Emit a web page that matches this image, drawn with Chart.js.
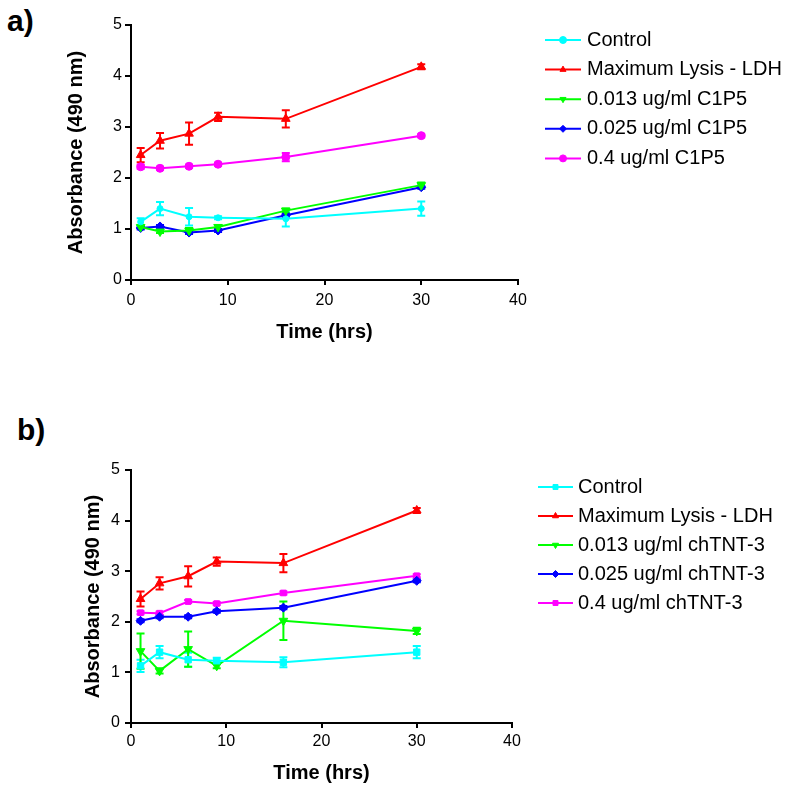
<!DOCTYPE html>
<html>
<head>
<meta charset="utf-8">
<script src="https://cdn.jsdelivr.net/npm/chart.js@4.4.0/dist/chart.umd.min.js"></script>
<style>
  body { margin: 0; background: #fff; width: 800px; height: 793px; position: relative; overflow: hidden; font-family: "Liberation Sans", Arial, sans-serif; }
  canvas { position: absolute; left: 0; }
  #chartA { top: 0; }
  #chartB { top: 390px; }
  .panel { position: absolute; font-weight: bold; font-size: 30px; line-height: 30px; color: #000; }
</style>
</head>
<body>
<div class="panel" style="left:7px;top:6px">a)</div>
<div class="panel" style="left:17px;top:415px">b)</div>
<canvas id="chartA" width="800" height="390"></canvas>
<canvas id="chartB" width="800" height="403"></canvas>
<script>
// time points (hrs)
const times = [1, 3, 6, 9, 16, 30];

// panel a) C1P5
const labelsA = ["Control", "Maximum Lysis - LDH", "0.013 ug/ml C1P5", "0.025 ug/ml C1P5", "0.4 ug/ml C1P5"];
const controlA = [1.14, 1.40, 1.24, 1.22, 1.20, 1.40];
const controlErrA = [0.07, 0.13, 0.17, 0.03, 0.15, 0.14];
const lysisA = [2.45, 2.73, 2.87, 3.20, 3.16, 4.18];
const lysisErrA = [0.14, 0.15, 0.22, 0.08, 0.17, 0.05];
const low013A = [1.04, 0.95, 0.97, 1.04, 1.36, 1.86];
const low013ErrA = [0.03, 0.03, 0.05, 0.04, 0.04, 0.05];
const mid025A = [1.02, 1.05, 0.93, 0.97, 1.27, 1.82];
const mid025ErrA = [0.03, 0.03, 0.03, 0.03, 0.03, 0.03];
const high04A = [2.22, 2.19, 2.23, 2.27, 2.41, 2.83];
const high04ErrA = [0.04, 0.03, 0.03, 0.03, 0.08, 0.03];

// panel b) chTNT-3
const labelsB = ["Control", "Maximum Lysis - LDH", "0.013 ug/ml chTNT-3", "0.025 ug/ml chTNT-3", "0.4 ug/ml chTNT-3"];
const controlB = [1.13, 1.40, 1.25, 1.23, 1.20, 1.40];
const controlErrB = [0.12, 0.12, 0.14, 0.06, 0.10, 0.12];
const lysisB = [2.45, 2.76, 2.90, 3.19, 3.16, 4.20];
const lysisErrB = [0.15, 0.12, 0.20, 0.08, 0.18, 0.05];
const low013B = [1.42, 1.03, 1.46, 1.13, 2.02, 1.82];
const low013ErrB = [0.35, 0.05, 0.35, 0.05, 0.38, 0.06];
const mid025B = [2.02, 2.10, 2.10, 2.21, 2.28, 2.81];
const mid025ErrB = [0.03, 0.03, 0.03, 0.03, 0.03, 0.03];
const high04B = [2.18, 2.17, 2.40, 2.36, 2.57, 2.91];
const high04ErrB = [0.03, 0.03, 0.03, 0.03, 0.03, 0.03];

const colors = ["#00ffff", "#ff0000", "#00ff00", "#0000ff", "#ff00ff"];

Chart.defaults.font.family = "'Liberation Sans', Arial, sans-serif";
Chart.defaults.color = "#000";

function makeDataset(label, values, errors, color, style, rotation, radius) {
  return {
    label: label,
    data: values.map((v, i) => ({ x: times[i], y: v })),
    errors: errors,
    borderColor: color,
    backgroundColor: color,
    borderWidth: 2,
    pointStyle: style,
    rotation: rotation,
    pointRadius: radius,
    pointBorderWidth: 1,
    tension: 0,
    fill: false,
  };
}

const errorBars = {
  id: "errorBars",
  beforeDatasetsDraw(chart) {
    const ctx = chart.ctx;
    const xs = chart.scales.x;
    const ys = chart.scales.y;
    ctx.save();
    chart.data.datasets.forEach((ds) => {
      ctx.strokeStyle = ds.borderColor;
      ctx.lineWidth = 2;
      ds.data.forEach((p, i) => {
        const e = ds.errors[i];
        const x = xs.getPixelForValue(p.x);
        const yt = ys.getPixelForValue(p.y + e);
        const yb = ys.getPixelForValue(p.y - e);
        ctx.beginPath();
        ctx.moveTo(x, yt);
        ctx.lineTo(x, yb);
        ctx.moveTo(x - 4, yt);
        ctx.lineTo(x + 4, yt);
        ctx.moveTo(x - 4, yb);
        ctx.lineTo(x + 4, yb);
        ctx.stroke();
      });
    });
    ctx.restore();
  },
};

const sideLegend = {
  id: "sideLegend",
  afterDraw(chart, args, opts) {
    const ctx = chart.ctx;
    ctx.save();
    ctx.font = "20px 'Liberation Sans', Arial, sans-serif";
    ctx.textBaseline = "middle";
    chart.data.datasets.forEach((ds, i) => {
      const y = opts.top + i * opts.gap;
      ctx.strokeStyle = ds.borderColor;
      ctx.fillStyle = ds.borderColor;
      ctx.lineWidth = 2;
      ctx.beginPath();
      ctx.moveTo(opts.x, y);
      ctx.lineTo(opts.x + opts.len, y);
      ctx.stroke();
      ctx.lineWidth = 1;
      Chart.helpers.drawPoint(ctx, { pointStyle: ds.pointStyle, rotation: ds.rotation, radius: 3.5, borderWidth: 1 }, opts.x + opts.len / 2, y);
      ctx.fillStyle = "#000";
      ctx.fillText(ds.label, opts.textX, y);
    });
    ctx.restore();
  },
};

function makeOptions(p) {
  return {
    responsive: false,
    animation: false,
    layout: { padding: p.padding },
    plugins: {
      legend: { display: false },
      tooltip: { enabled: false },
      sideLegend: p.legend,
    },
    scales: {
      x: {
        type: "linear",
        min: 0,
        max: 40,
        afterFit: (scale) => { scale.height = p.xHeight; },
        ticks: { stepSize: 10, padding: p.xPad, font: { size: 16 }, color: "#000" },
        grid: { drawOnChartArea: false, tickLength: 5, tickColor: "#000", lineWidth: 2 },
        border: { color: "#000", width: 2 },
        title: { display: true, text: "Time (hrs)", font: { size: 20, weight: "bold" }, color: "#000", padding: 0 },
      },
      y: {
        min: 0,
        max: 5,
        afterFit: (scale) => { scale.width = p.yWidth; },
        ticks: { stepSize: 1, padding: p.yPad, font: { size: 16 }, color: "#000" },
        grid: { drawOnChartArea: false, tickLength: 6, tickColor: "#000", lineWidth: 2 },
        border: { color: "#000", width: 2 },
        title: { display: true, text: "Absorbance (490 nm)", font: { size: 20, weight: "bold" }, color: "#000", padding: 0 },
      },
    },
  };
}

new Chart(chartA, {
  type: "line",
  data: {
    datasets: [
      makeDataset(labelsA[0], controlA, controlErrA, colors[0], "circle", 0, 3),
      makeDataset(labelsA[1], lysisA, lysisErrA, colors[1], "triangle", 0, 5),
      makeDataset(labelsA[2], low013A, low013ErrA, colors[2], "triangle", 180, 5),
      makeDataset(labelsA[3], mid025A, mid025ErrA, colors[3], "rectRot", 0, 4.5),
      makeDataset(labelsA[4], high04A, high04ErrA, colors[4], "circle", 0, 4),
    ],
  },
  options: makeOptions({
    padding: { left: 64, top: 25, right: 282, bottom: 46 },
    yWidth: 67,
    xHeight: 64,
    xPad: 6,
    yPad: 3,
    legend: { x: 545, len: 36, textX: 587, top: 40, gap: 29.6 },
  }),
  plugins: [errorBars, sideLegend],
});

new Chart(chartB, {
  type: "line",
  data: {
    datasets: [
      makeDataset(labelsB[0], controlB, controlErrB, colors[0], "rect", 0, 4.5),
      makeDataset(labelsB[1], lysisB, lysisErrB, colors[1], "triangle", 0, 5),
      makeDataset(labelsB[2], low013B, low013ErrB, colors[2], "triangle", 180, 5),
      makeDataset(labelsB[3], mid025B, mid025ErrB, colors[3], "rectRot", 0, 4.5),
      makeDataset(labelsB[4], high04B, high04ErrB, colors[4], "rect", 0, 4),
    ],
  },
  options: makeOptions({
    padding: { left: 81, top: 80, right: 288, bottom: 8 },
    yWidth: 50,
    xHeight: 62,
    xPad: 4,
    yPad: 5,
    legend: { x: 538, len: 35, textX: 578, top: 97, gap: 29 },
  }),
  plugins: [errorBars, sideLegend],
});
</script>
</body>
</html>
